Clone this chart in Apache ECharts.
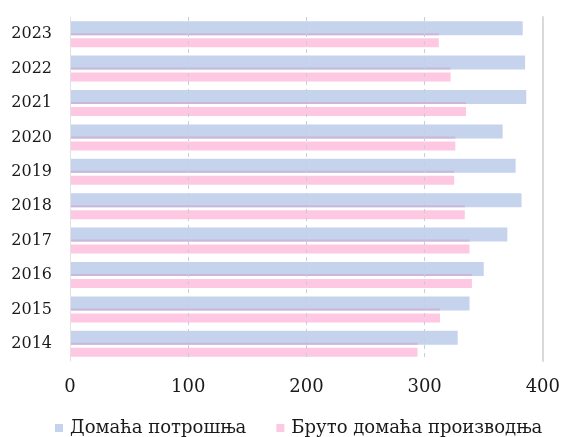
<!DOCTYPE html>
<html>
<head>
<meta charset="utf-8">
<script src="https://cdn.jsdelivr.net/npm/echarts@6/dist/echarts.min.js"></script>
<style>
  html, body { margin: 0; padding: 0; background: #ffffff; }
  #chart { width: 563px; height: 437px; }
</style>
</head>
<body>
<div id="chart"></div>
<script>
// Years, bottom to top on the category axis
const years = ['2014', '2015', '2016', '2017', '2018', '2019', '2020', '2021', '2022', '2023'];

// Домаћа потрошња (domestic consumption)
const consumption = [328, 338, 350, 370, 382, 377, 366, 386, 385, 383];

// Бруто домаћа производња (gross domestic production)
const production = [294, 313, 340, 338, 334, 325, 326, 335, 322, 312];

// Value-axis ticks
const xTicks = [0, 100, 200, 300, 400];

const seriesNames = ['Домаћа потрошња', 'Бруто домаћа производња'];

const serif = '"DejaVu Serif", "Liberation Serif", serif';

const chart = echarts.init(document.getElementById('chart'), null, { renderer: 'canvas' });

chart.setOption({
  animation: false,
  backgroundColor: '#ffffff',
  grid: { left: 70, right: 19, top: 17, bottom: 76, containLabel: false },
  legend: {
    data: seriesNames,
    left: 55,
    top: 419,
    padding: 0,
    icon: 'rect',
    itemWidth: 8,
    itemHeight: 8,
    itemGap: 30,
    textStyle: { fontFamily: serif, fontSize: 18, color: '#1a1a1a', padding: [0, 0, 0, 2] }
  },
  xAxis: {
    type: 'value',
    min: xTicks[0],
    max: xTicks[xTicks.length - 1],
    interval: 100,
    z: 3,
    axisLine: { show: false },
    axisTick: { show: false },
    axisLabel: { fontFamily: serif, fontSize: 18, color: '#1a1a1a', margin: 17 },
    splitLine: { show: true, lineStyle: { color: '#c6cddd', type: [4, 4], width: 1 } }
  },
  yAxis: [
    {
      type: 'category',
      data: years,
      z: 3,
      axisLine: { show: true, lineStyle: { color: '#e2e2e2', width: 1 } },
      axisTick: { show: false },
      axisLabel: { fontFamily: serif, fontSize: 16, color: '#1a1a1a', margin: 18 },
      splitLine: { show: false }
    },
    {
      // right frame line; also carries the thin overlay strip
      type: 'category',
      data: years,
      position: 'right',
      z: 3,
      axisLine: { show: true, lineStyle: { color: '#dadada', width: 2 } },
      axisTick: { show: false },
      axisLabel: { show: false },
      splitLine: { show: false }
    }
  ],
  series: [
    {
      name: seriesNames[0],
      type: 'bar',
      data: consumption,
      barWidth: 14,
      barGap: '21.43%',
      itemStyle: { color: '#c5d3ec' }
    },
    {
      name: seriesNames[1],
      type: 'bar',
      data: production,
      barWidth: 9,
      barGap: '21.43%',
      itemStyle: { color: '#fec8e2' }
    },
    {
      // production edge along the bottom of each consumption bar
      name: 'strip',
      type: 'bar',
      yAxisIndex: 1,
      data: production,
      barWidth: 2,
      silent: true,
      legendHoverLink: false,
      itemStyle: { color: '#cbb6dc' }
    }
  ]
});
</script>
</body>
</html>
